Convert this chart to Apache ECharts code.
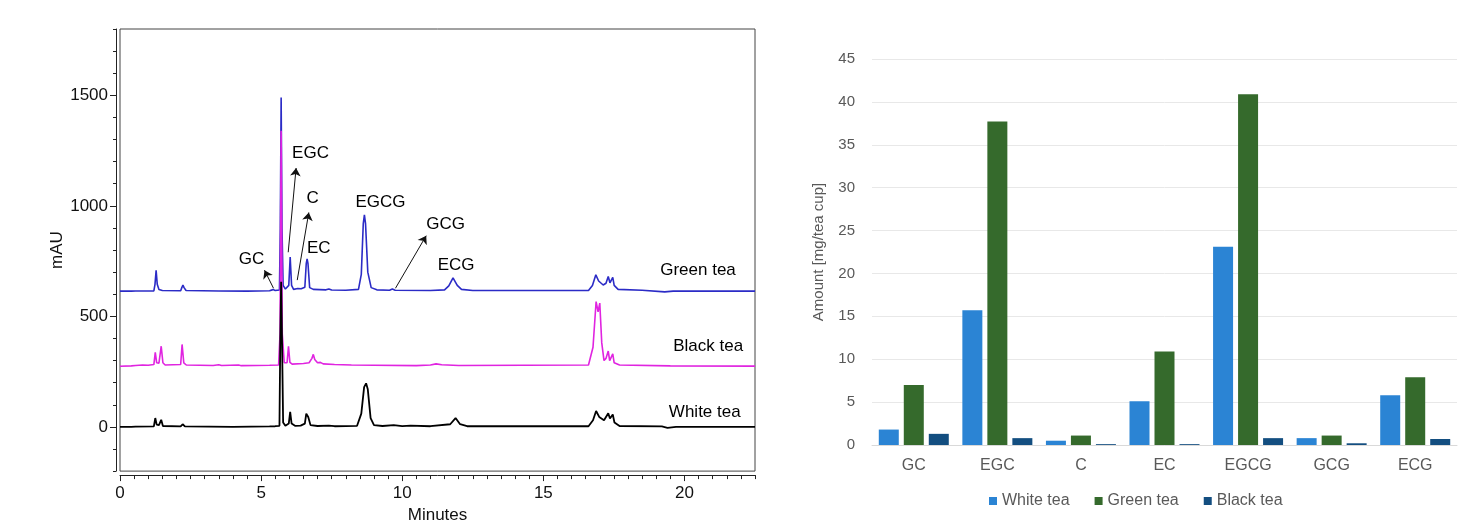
<!DOCTYPE html>
<html>
<head>
<meta charset="utf-8">
<script src="https://cdn.jsdelivr.net/npm/echarts@6/dist/echarts.min.js"></script>
<style>
html,body{margin:0;padding:0;background:#fff;}
#c{width:1460px;height:529px;}
</style>
</head>
<body>
<div id="c"></div>
<script>
// ---------- Chromatogram data (time [min], mAU) ----------
const greenTeaTrace = [
  [0,614],[0.4,614],[0.47,622],[0.55,615],[1.2,615],[1.24,645],[1.28,708],[1.32,645],[1.38,622],[1.45,628],[1.5,617],
  [2.15,616],[2.19,630],[2.23,641],[2.27,630],[2.34,617],[3.5,615],[4.5,614],[5.3,616],[5.42,621],[5.5,617],
  [5.65,619],[5.68,900],[5.71,1490],[5.74,900],[5.78,640],[5.86,624],[5.98,640],[6.03,768],[6.08,640],[6.15,622],
  [6.3,626],[6.42,625],[6.55,632],[6.6,740],[6.63,760],[6.66,740],[6.72,630],[6.85,622],[7.3,620],[7.4,624],[7.5,619],
  [8.0,618],[8.45,622],[8.55,690],[8.62,920],[8.66,959],[8.7,920],[8.78,700],[8.9,630],[9.1,620],[9.55,618],[9.65,624],
  [9.75,618],[11.0,617],[11.5,620],[11.65,638],[11.8,674],[11.95,640],[12.1,622],[12.5,617],[16.6,617],[16.74,640],
  [16.86,688],[16.96,660],[17.12,642],[17.22,650],[17.3,680],[17.36,652],[17.41,656],[17.46,676],[17.51,640],[17.65,622],
  [18.5,618],[19.3,611],[19.6,614],[22.5,614]
];
const blackTeaTrace = [
  [0,274],[0.4,276],[0.47,284],[0.55,278],[0.8,280],[1.0,279],[1.2,282],[1.25,337],[1.3,290],[1.38,288],[1.46,365],
  [1.52,290],[1.6,280],[2.15,282],[2.2,373],[2.26,290],[2.35,280],[3.3,278],[3.5,281],[3.6,278],[4.2,280],[4.3,277],
  [5.3,279],[5.62,280],[5.67,420],[5.71,1340],[5.75,420],[5.82,290],[5.92,290],[5.97,365],[6.02,292],[6.1,284],
  [6.5,287],[6.7,290],[6.8,310],[6.85,328],[6.9,305],[7.0,290],[7.1,292],[7.2,285],[7.6,282],[8.2,280],[9.0,279],
  [10.5,277],[11.0,280],[11.2,285],[11.4,281],[12,278],[16.6,280],[16.76,360],[16.87,567],[16.94,520],[17.0,560],
  [17.07,380],[17.15,300],[17.22,310],[17.3,343],[17.35,300],[17.41,300],[17.46,330],[17.51,290],[17.7,280],
  [19.5,276],[22.5,275]
];
const whiteTeaTrace = [
  [0,0],[0.4,0],[0.47,5],[0.55,1],[1.2,2],[1.25,40],[1.3,10],[1.38,8],[1.46,32],[1.52,4],[2.15,2],[2.22,12],[2.3,2],
  [4,0],[5.3,2],[5.5,3],[5.65,5],[5.68,400],[5.71,656],[5.74,400],[5.78,20],[5.86,5],[5.98,15],[6.03,68],[6.08,15],
  [6.2,5],[6.4,6],[6.55,15],[6.6,60],[6.63,64],[6.67,45],[6.75,8],[7.0,4],[7.4,6],[7.6,3],[8.4,5],[8.55,60],[8.65,180],
  [8.72,197],[8.78,170],[8.88,40],[9.0,8],[9.3,4],[9.7,8],[10.0,3],[10.3,6],[11.0,3],[11.7,12],[11.89,40],[12.05,12],
  [12.3,3],[16.6,3],[16.76,30],[16.87,72],[16.98,45],[17.15,30],[17.3,62],[17.36,38],[17.41,42],[17.46,56],[17.52,20],
  [17.7,4],[19.2,2],[19.4,-4],[19.7,0],[22.5,0]
];
const traceNames = ['Green tea trace','Black tea trace','White tea trace'];
const yTickLabels = [0, 500, 1000, 1500];
const xTickLabels = [0, 5, 10, 15, 20];

// ---------- Bar chart data (mg / tea cup) ----------
const compounds = ['GC','EGC','C','EC','EGCG','GCG','ECG'];
const whiteTea = [1.8, 15.7, 0.5, 5.1, 23.1, 0.8, 5.8];
const greenTea = [7.0, 37.7, 1.1, 10.9, 40.9, 1.1, 7.9];
const blackTea = [1.3, 0.8, 0.1, 0.1, 0.8, 0.2, 0.7];

// ---------- Annotations (in data coordinates of the chromatogram) ----------
const annotations = [
  {name:'GC', pos:[4.66,758]},
  {name:'EGC', pos:[6.75,1237]},
  {name:'C', pos:[6.83,1032]},
  {name:'EC', pos:[7.04,806]},
  {name:'EGCG', pos:[9.23,1014]},
  {name:'GCG', pos:[11.54,918]},
  {name:'ECG', pos:[11.91,731]},
  {name:'Green tea', pos:[20.48,709]},
  {name:'Black tea', pos:[20.84,363]},
  {name:'White tea', pos:[20.72,67]}
];
const arrows = [
  [[5.44,627],[5.12,709]],
  [[5.96,790],[6.24,1171]],
  [[6.28,664],[6.69,970]],
  [[9.76,627],[10.85,865]]
];

const FONT = 'Liberation Sans, Arial, sans-serif';
const chart = echarts.init(document.getElementById('c'), null, {renderer:'canvas'});
const plain = v => String(v);

const option = {
  animation: false,
  backgroundColor: '#fff',
  textStyle: {fontFamily: FONT},
  grid: [
    {left:120, right:705, top:29, bottom:50, show:true, borderColor:'#444', borderWidth:1, backgroundColor:'transparent'},
    {left:872, right:3, top:59, bottom:84}
  ],
  legend: {
    data: ['White tea','Green tea','Black tea'],
    left: 984, top: 488,
    icon: 'rect', itemWidth: 8, itemHeight: 8, itemGap: 25,
    textStyle: {fontSize:16, color:'#595959', fontFamily: FONT}
  },
  xAxis: [
    {type:'value', gridIndex:0, min:0, max:22.5, interval:0.5, offset:4,
     axisLine:{show:true, onZero:false, lineStyle:{color:'#222', width:1}},
     axisTick:{show:true, length:4, lineStyle:{color:'#222'}},
     axisLabel:{show:false}, splitLine:{show:false}},
    {type:'value', gridIndex:0, min:0, max:22.5, offset:4, position:'bottom',
     name:'Minutes', nameLocation:'middle', nameGap:31,
     nameTextStyle:{fontSize:17, color:'#111', fontFamily:FONT},
     axisLine:{show:false, onZero:false},
     axisTick:{show:true, length:6, customValues: xTickLabels, lineStyle:{color:'#222'}},
     axisLabel:{show:true, customValues: xTickLabels, formatter: plain, fontSize:17, color:'#111', margin:10, fontFamily:FONT},
     splitLine:{show:false}},
    {type:'category', gridIndex:1, data: compounds,
     axisLine:{show:true, lineStyle:{color:'#d9d9d9'}},
     axisTick:{show:false},
     axisLabel:{fontSize:16, color:'#595959', margin:13, fontFamily:FONT}}
  ],
  yAxis: [
    {type:'value', gridIndex:0, min:-200, max:1800, interval:100, offset:4,
     axisLine:{show:true, onZero:false, lineStyle:{color:'#222', width:1}},
     axisTick:{show:true, length:3, lineStyle:{color:'#222'}},
     axisLabel:{show:false}, splitLine:{show:false}},
    {type:'value', gridIndex:0, min:-200, max:1800, offset:4, position:'left',
     name:'mAU', nameLocation:'middle', nameGap:46,
     nameTextStyle:{fontSize:17, color:'#111', fontFamily:FONT},
     axisLine:{show:false, onZero:false},
     axisTick:{show:true, length:6, customValues: yTickLabels, lineStyle:{color:'#222'}},
     axisLabel:{show:true, customValues: yTickLabels, formatter: plain, fontSize:17, color:'#111', margin:8, fontFamily:FONT},
     splitLine:{show:false}},
    {type:'value', gridIndex:1, min:0, max:45, interval:5,
     name:'Amount [mg/tea cup]', nameLocation:'middle', nameGap:46,
     nameTextStyle:{fontSize:15, color:'#595959', fontFamily:FONT},
     axisLine:{show:false}, axisTick:{show:false},
     axisLabel:{fontSize:15, color:'#595959', margin:17, fontFamily:FONT},
     splitLine:{show:true, lineStyle:{color:'#e8e8e8', width:1}}}
  ],
  series: [
    {type:'line', name:traceNames[0], xAxisIndex:0, yAxisIndex:0, data:greenTeaTrace, showSymbol:false,
     lineStyle:{color:'#2b2bc6', width:1.6}, itemStyle:{color:'#2b2bc6'}, z:2},
    {type:'line', name:traceNames[1], xAxisIndex:0, yAxisIndex:0, data:blackTeaTrace, showSymbol:false,
     lineStyle:{color:'#e024e0', width:1.6}, itemStyle:{color:'#e024e0'}, z:3},
    {type:'line', name:traceNames[2], xAxisIndex:0, yAxisIndex:0, data:whiteTeaTrace, showSymbol:false,
     lineStyle:{color:'#000', width:1.8}, itemStyle:{color:'#000'}, z:4},
    {type:'lines', coordinateSystem:'cartesian2d', xAxisIndex:0, yAxisIndex:0,
     data: arrows.map(a => ({coords:a})),
     symbol:['none','arrow'], symbolSize:8,
     lineStyle:{color:'#111', width:1, opacity:1}, z:5},
    {type:'scatter', xAxisIndex:0, yAxisIndex:0, symbolSize:1,
     itemStyle:{color:'rgba(0,0,0,0)'},
     data: annotations.map(a => ({name:a.name, value:a.pos})),
     label:{show:true, position:'inside', formatter:'{b}', fontSize:17, color:'#000', opacity:1,
            textBorderWidth:0, fontFamily:FONT},
     z:6, silent:true},
    {type:'bar', name:'White tea', xAxisIndex:2, yAxisIndex:2, data:whiteTea, barWidth:20, barGap:'25%',
     itemStyle:{color:'#2b84d4'}},
    {type:'bar', name:'Green tea', xAxisIndex:2, yAxisIndex:2, data:greenTea, barWidth:20, barGap:'25%',
     itemStyle:{color:'#356a2c'}},
    {type:'bar', name:'Black tea', xAxisIndex:2, yAxisIndex:2, data:blackTea, barWidth:20, barGap:'25%',
     itemStyle:{color:'#134e80'}}
  ]
};
chart.setOption(option);
</script>
</body>
</html>
